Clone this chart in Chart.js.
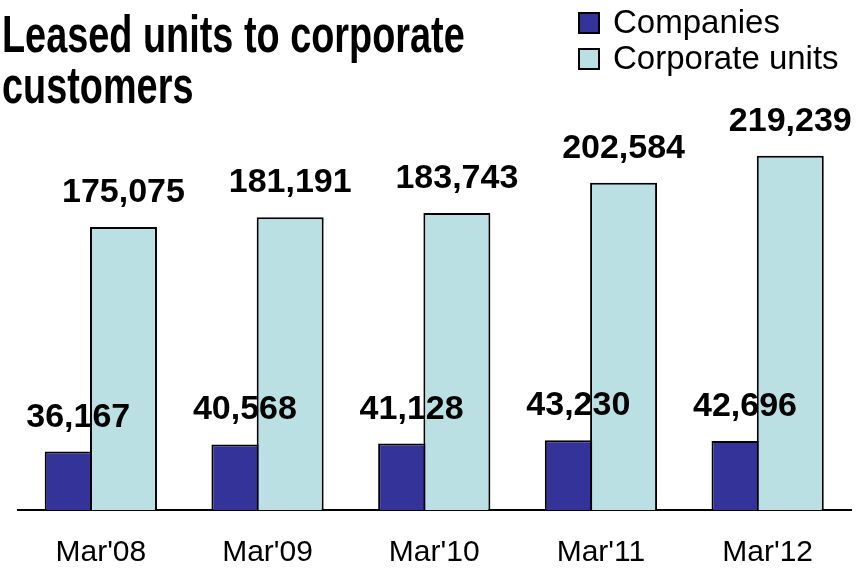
<!DOCTYPE html>
<html>
<head>
<meta charset="utf-8">
<script src="https://cdn.jsdelivr.net/npm/chart.js@4/dist/chart.umd.min.js"></script>
<style>
  html, body { margin: 0; padding: 0; background: #ffffff; }
  #wrap { width: 867px; height: 571px; position: relative; }
</style>
</head>
<body>
<div id="wrap"><canvas id="c" width="867" height="571"></canvas></div>
<script>
const titleLines = ["Leased units to corporate", "customers"];
const categories = ["Mar'08", "Mar'09", "Mar'10", "Mar'11", "Mar'12"];
const seriesNames = ["Companies", "Corporate units"];
const companies = [36167, 40568, 41128, 43230, 42696];
const corporateUnits = [175075, 181191, 183743, 202584, 219239];
const seriesColors = ["#333399", "#BAE0E3"];

const FONT = "'Liberation Sans', Arial, Helvetica, sans-serif";
const fmt = v => v.toLocaleString('en-US');

const layerPlugin = {
  id: 'layerPlugin',
  beforeDatasetsDraw(chart) {
    const ctx = chart.ctx;
    const metas = chart.getSortedVisibleDatasetMetas();
    metas.forEach(meta => meta.controller.draw());
    ctx.save();
    ctx.font = "bold 34px " + FONT;
    ctx.fillStyle = "#000";
    ctx.textAlign = "center";
    ctx.textBaseline = "alphabetic";
    metas.forEach(meta => {
      const ds = chart.data.datasets[meta.index];
      meta.data.forEach((el, i) => {
        ctx.fillText(fmt(ds.data[i]), el.x, el.y - 25);
      });
    });
    ctx.restore();
    return false;
  },
  afterDraw(chart) {
    const ctx = chart.ctx;
    // title (condensed bold, as in the reference)
    ctx.save();
    ctx.font = "bold 52px " + FONT;
    ctx.fillStyle = "#000";
    ctx.textAlign = "left";
    ctx.textBaseline = "alphabetic";
    ctx.scale(0.728, 1);
    titleLines.forEach((t, i) => ctx.fillText(t, 2 / 0.728, 52 + i * 51));
    ctx.restore();
    // legend
    ctx.save();
    ctx.font = "33px " + FONT;
    ctx.textBaseline = "middle";
    ctx.textAlign = "left";
    chart.data.datasets.forEach((ds, i) => {
      const y = 13 + i * 36;
      ctx.fillStyle = ds.backgroundColor;
      ctx.fillRect(579, y, 20, 20);
      ctx.lineWidth = 2;
      ctx.strokeStyle = "#000";
      ctx.strokeRect(579, y, 20, 20);
      ctx.fillStyle = "#000";
      ctx.fillText(ds.label, 613, y + 11);
    });
    ctx.restore();
  }
};

new Chart(document.getElementById('c'), {
  type: 'bar',
  data: {
    labels: categories,
    datasets: [
      { label: seriesNames[0], data: companies, backgroundColor: seriesColors[0], borderColor: '#000', borderWidth: 2 },
      { label: seriesNames[1], data: corporateUnits, backgroundColor: seriesColors[1], borderColor: '#000', borderWidth: 2 }
    ]
  },
  options: {
    responsive: false,
    animation: false,
    devicePixelRatio: 1,
    categoryPercentage: 0.543,
    barPercentage: 1.48,
    layout: { padding: { left: 2, right: 16, top: 112.5, bottom: 0 } },
    plugins: {
      legend: { display: false },
      tooltip: { enabled: false },
      title: { display: false }
    },
    scales: {
      x: {
        grid: { display: false, drawTicks: false },
        border: { display: true, color: '#000', width: 2 },
        ticks: { color: '#000', font: { family: FONT, size: 30 }, padding: 25, maxRotation: 0 },
        afterFit(scale) { scale.height = 61; }
      },
      y: {
        min: 0,
        max: 246000,
        grid: { display: false, drawTicks: false },
        border: { display: false },
        ticks: { display: false },
        afterFit(scale) { scale.width = 15.5; }
      }
    }
  },
  plugins: [layerPlugin]
});
</script>
</body>
</html>
